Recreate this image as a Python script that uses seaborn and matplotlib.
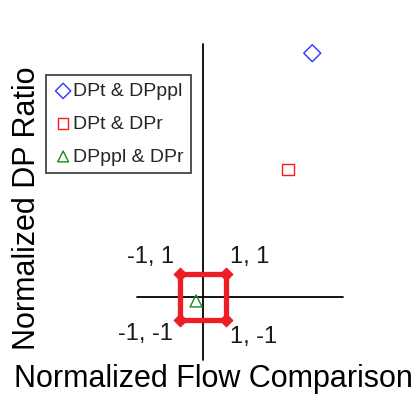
import matplotlib
matplotlib.use("Agg")
import matplotlib.pyplot as plt
import seaborn as sns

# data
series_names = ["DPt & DPppl", "DPt & DPr", "DPppl & DPr"]
flow_cmp = [4.75, 3.7, -0.3]
dp_ratio = [10.6, 5.55, -0.17]

square_x = [-1, 1, 1, -1, -1]
square_y = [1, 1, -1, -1, 1]
corner_labels = ["-1, 1", "1, 1", "-1, -1", "1, -1"]
corner_x = [-1, 1, -1, 1]
corner_y = [1, 1, -1, -1]

# axis cross extents
hline = [-2.87, 6.09]
vline = [-2.74, 11.0]

sns.set_style("white")
plt.rcParams["font.family"] = ["Liberation Sans", "DejaVu Sans"]

fig = plt.figure(figsize=(4.18, 3.96), dpi=100)
ax = fig.add_axes([0, 0, 1, 1])
ax.set_xlim(-203 / 23, 215 / 23)
ax.set_ylim(-99 / 23, 297 / 23)
ax.axis("off")

ax.plot(hline, [0, 0], color="black", lw=1.3, zorder=1)
ax.plot([0, 0], vline, color="black", lw=1.3, zorder=1)

ax.plot(square_x, square_y, color="#ee1c25", lw=3.8, zorder=2, solid_joinstyle="miter")
sns.scatterplot(x=corner_x, y=corner_y, ax=ax, marker="D", s=45, color="#ee1c25",
                edgecolor="#ee1c25", zorder=3, legend=False)

markers = ["D", "s", "^"]
colors = ["#3333ff", "#ff1a1a", "#1a8a1a"]
sizes = [75, 70, 75]
for name, x, y, m, c, s in zip(series_names, flow_cmp, dp_ratio, markers, colors, sizes):
    sns.scatterplot(x=[x], y=[y], ax=ax, marker=m, s=s, facecolor="none",
                    edgecolor=c, linewidth=1.0, label=name, zorder=4)

offs = [(-2.3, 1.75), (2.05, 1.75), (-2.5, -1.6), (2.2, -1.75)]
for lab, cx, cy, (ox, oy) in zip(corner_labels, corner_x, corner_y, offs):
    ax.text(ox, oy, lab, ha="center", va="center", fontsize=17, color="#1a1a1a")

leg = ax.legend(loc="upper left", bbox_to_anchor=(46 / 418, 1 - 75 / 396),
                borderaxespad=0, frameon=True, fancybox=False, fontsize=14,
                handletextpad=0.0, borderpad=0.38, labelspacing=0.78,
                handlelength=1.0, markerscale=0.9)
leg.get_frame().set_edgecolor("black")
leg.get_frame().set_linewidth(1.2)

fig.text(213 / 418, 1 - 379 / 396, "Normalized Flow Comparison", ha="center",
         va="center", fontsize=22, color="black")
fig.text(27 / 418, 1 - 208 / 396, "Normalized DP Ratio", ha="center",
         va="center", rotation=90, fontsize=22, color="black")

fig.savefig("out.png", dpi=100)
